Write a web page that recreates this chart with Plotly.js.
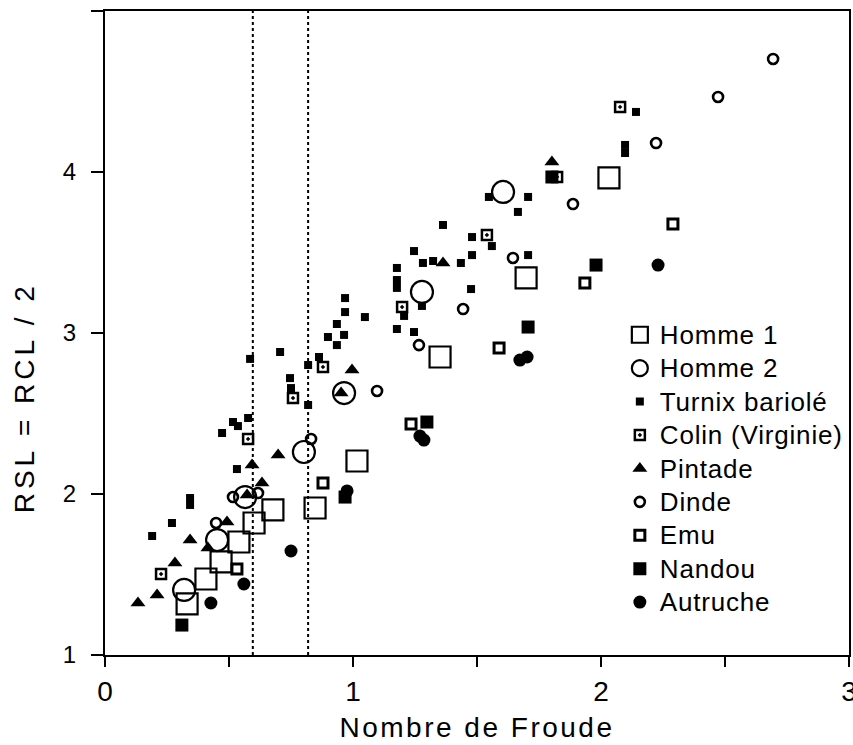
<!DOCTYPE html>
<html><head><meta charset="utf-8">
<script src="https://cdn.plot.ly/plotly-3.0.1.min.js"></script>
<style>
html,body{margin:0;padding:0;background:#fff}
.legendtext{font-size:26px !important;letter-spacing:0.8px}
.xtitle{letter-spacing:2.5px}
.annotation-text{letter-spacing:4px}
</style>
</head><body>
<div id="chart" style="width:853px;height:745px"></div>
<script>
// Homme 1
const homme1X = [0.331,0.407,0.468,0.540,0.601,0.677,0.847,1.016,1.351,1.698,2.032];
const homme1Y = [1.317,1.472,1.578,1.702,1.820,1.901,1.913,2.205,2.851,3.342,3.963];
// Homme 2
const homme2X = [0.319,0.452,0.565,0.802,0.964,1.278,1.605];
const homme2Y = [1.404,1.714,1.981,2.261,2.627,3.255,3.876];
// Turnix bariolé
const turnixX = [0.190,0.270,0.343,0.343,0.472,0.516,0.536,0.577,0.532,0.585,0.706,0.746,0.750,0.819,0.819,0.863,0.899,0.935,0.935,0.964,0.968,0.968,1.048,1.177,1.246,1.206,1.278,1.177,1.177,1.177,1.246,1.282,1.323,1.363,1.435,1.480,1.480,1.476,1.560,1.548,1.665,1.706,1.706,2.097,2.097,2.141];
const turnixY = [1.739,1.820,1.975,1.932,2.379,2.447,2.422,2.472,2.155,2.839,2.882,2.720,2.658,2.553,2.801,2.851,2.975,2.925,3.056,2.988,3.217,3.130,3.099,3.025,3.006,3.106,3.168,3.404,3.329,3.280,3.509,3.435,3.447,3.671,3.435,3.484,3.596,3.273,3.540,3.845,3.752,3.845,3.484,4.168,4.118,4.373];
// Colin (Virginie)
const colinX = [0.226,0.577,0.758,0.879,1.198,1.540,1.823,2.077];
const colinY = [1.503,2.342,2.596,2.789,3.161,3.609,3.969,4.404];
// Pintade
const pintadeX = [0.133,0.210,0.282,0.343,0.415,0.492,0.573,0.593,0.633,0.698,0.952,0.996,1.363,1.802];
const pintadeY = [1.323,1.373,1.571,1.714,1.665,1.826,1.994,2.180,2.068,2.242,2.627,2.770,3.435,4.062];
// Dinde
const dindeX = [0.448,0.516,0.617,0.831,1.097,1.266,1.444,1.645,1.887,2.222,2.472,2.694];
const dindeY = [1.820,1.981,2.006,2.342,2.640,2.925,3.149,3.466,3.801,4.180,4.466,4.702];
// Emu
const emuX = [0.532,0.879,1.234,1.589,1.935,2.290];
const emuY = [1.534,2.068,2.435,2.907,3.311,3.677];
// Nandou
const nandouX = [0.310,0.968,1.298,1.706,1.980,1.802];
const nandouY = [1.186,1.981,2.447,3.037,3.422,3.969];
// Autruche
const autrucheX = [0.427,0.560,0.750,0.976,1.270,1.286,1.673,1.702,2.230];
const autrucheY = [1.323,1.441,1.646,2.019,2.360,2.335,2.832,2.851,3.422];

// Reference lines (Froude numbers)
const froudeLines = [0.596, 0.819];

// Tick labels
const xTickVals = [0,0.5,1,1.5,2,2.5,3];
const xTickText = ['0','','1','','2','','3'];
const yTickVals = [1,2,3,4,5];
const yTickText = ['1','2','3','4',''];
const yTitleText = 'RSL = RCL / 2';
const xTitleText = 'Nombre de Froude';

const K = '#000';
function tr(name, x, y, symbol, size, lw) {
  return {type:'scatter', mode:'markers', name:name, x:x, y:y,
    marker:{symbol:symbol, size:size, color:K, line:{color:K, width:lw}}};
}
const data = [
  tr('Homme 1', homme1X, homme1Y, 'square-open', 21, 2.2),
  tr('Homme 2', homme2X, homme2Y, 'circle-open', 22, 2.2),
  tr('Turnix bariolé', turnixX, turnixY, 'square', 8, 0),
  tr('Colin (Virginie)', colinX, colinY, 'square-open-dot', 10, 2.5),
  tr('Pintade', pintadeX, pintadeY, 'triangle-up', 13, 0),
  tr('Dinde', dindeX, dindeY, 'circle-open', 10, 2.6),
  tr('Emu', emuX, emuY, 'square-open', 10, 3),
  tr('Nandou', nandouX, nandouY, 'square', 13, 0),
  tr('Autruche', autrucheX, autrucheY, 'circle', 13, 0)
];
const shapes = froudeLines.map(v => ({type:'line', xref:'x', yref:'paper', x0:v, x1:v, y0:0, y1:1,
  line:{color:K, width:2, dash:'dot'}}));
const fam = 'Liberation Sans, Arial, sans-serif';
const layout = {
  width:853, height:745,
  margin:{l:105, r:4, t:11, b:90},
  paper_bgcolor:'#fff', plot_bgcolor:'#fff',
  font:{family:fam, color:K},
  showlegend:true,
  legend:{x:0.692, y:0.531, xanchor:'left', yanchor:'top', bgcolor:'rgba(0,0,0,0)',
    font:{family:fam, size:23.4, color:K}, itemsizing:'trace', tracegroupgap:0},
  xaxis:{range:[0,3], showline:true, linecolor:K, linewidth:2, mirror:true,
    showgrid:false, zeroline:false, ticks:'outside', ticklen:10, tickwidth:1.5, tickcolor:K,
    tickvals:xTickVals, ticktext:xTickText, tickfont:{family:fam, size:28, color:K},
    ticklabeloverflow:'allow',
    title:{text:xTitleText, font:{family:fam, size:28, color:K}, standoff:12}},
  yaxis:{range:[1,5], showline:true, linecolor:K, linewidth:2, mirror:true,
    showgrid:false, zeroline:false, ticks:'outside', ticklen:12, tickwidth:1.5, tickcolor:K,
    tickvals:yTickVals, ticktext:yTickText, tickfont:{family:fam, size:24, color:K},
    ticklabelstandoff:10},
  annotations:[{text:yTitleText, xref:'paper', yref:'paper', x:-0.109, y:0.40,
    xanchor:'center', yanchor:'middle', textangle:-90, showarrow:false,
    font:{family:fam, size:28, color:K}}],
  shapes:shapes
};
Plotly.newPlot('chart', data, layout, {displayModeBar:false, staticPlot:true});
</script>
</body></html>
